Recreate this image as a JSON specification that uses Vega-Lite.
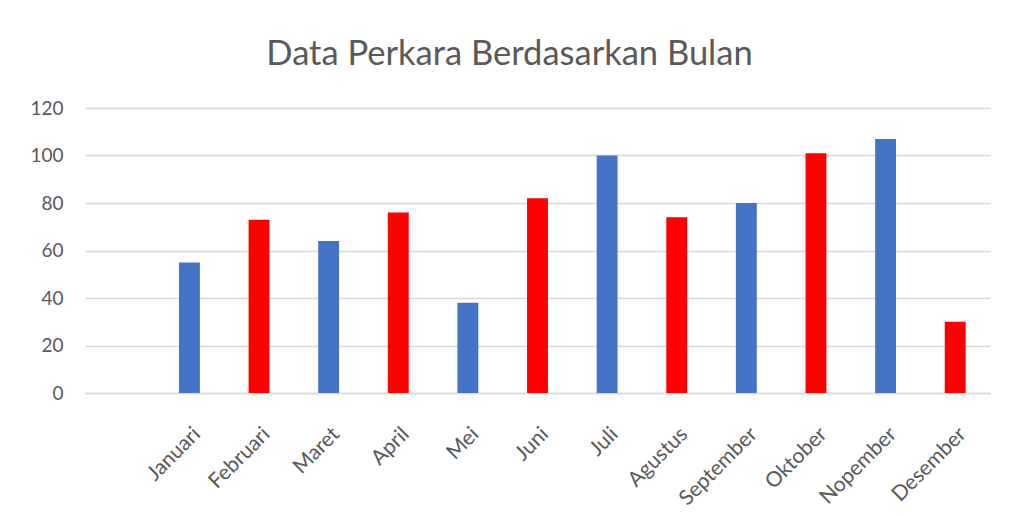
{
  "$schema": "https://vega.github.io/schema/vega-lite/v6.json",
  "width": 905,
  "height": 285,
  "autosize": {"type": "none"},
  "padding": {"left": 85, "top": 108, "right": 25, "bottom": 123},
  "background": "white",
  "title": {
    "text": "Data Perkara Berdasarkan Bulan",
    "font": "Lato",
    "fontSize": 34.5,
    "fontWeight": "normal",
    "color": "#595959",
    "anchor": "middle",
    "baseline": "alphabetic",
    "offset": 0,
    "dx": -28
  },
  "data": {
    "values": [
      {"bulan": "Januari", "jumlah": 55, "kelompok": "ganjil"},
      {"bulan": "Februari", "jumlah": 73, "kelompok": "genap"},
      {"bulan": "Maret", "jumlah": 64, "kelompok": "ganjil"},
      {"bulan": "April", "jumlah": 76, "kelompok": "genap"},
      {"bulan": "Mei", "jumlah": 38, "kelompok": "ganjil"},
      {"bulan": "Juni", "jumlah": 82, "kelompok": "genap"},
      {"bulan": "Juli", "jumlah": 100, "kelompok": "ganjil"},
      {"bulan": "Agustus", "jumlah": 74, "kelompok": "genap"},
      {"bulan": "September", "jumlah": 80, "kelompok": "ganjil"},
      {"bulan": "Oktober", "jumlah": 101, "kelompok": "genap"},
      {"bulan": "Nopember", "jumlah": 107, "kelompok": "ganjil"},
      {"bulan": "Desember", "jumlah": 30, "kelompok": "genap"}
    ]
  },
  "mark": {"type": "bar"},
  "encoding": {
    "x": {
      "field": "bulan",
      "type": "nominal",
      "sort": null,
      "scale": {
        "domain": [" ", "Januari", "Februari", "Maret", "April", "Mei", "Juni", "Juli", "Agustus", "September", "Oktober", "Nopember", "Desember"],
        "paddingInner": 0.7,
        "paddingOuter": 0.35
      },
      "axis": {
        "title": null,
        "labelAngle": -45,
        "labelFont": "Lato",
        "labelFontSize": 21,
        "labelColor": "#595959",
        "labelPadding": 30,
        "ticks": false,
        "domainColor": "#d9d9d9",
        "domainWidth": 1.5,
        "grid": false
      }
    },
    "y": {
      "field": "jumlah",
      "type": "quantitative",
      "scale": {"domain": [0, 120]},
      "axis": {
        "title": null,
        "values": [0, 20, 40, 60, 80, 100, 120],
        "labelFont": "Lato",
        "labelFontSize": 19,
        "labelColor": "#595959",
        "labelPadding": 22,
        "ticks": false,
        "domain": false,
        "grid": true,
        "gridColor": "#d9d9d9",
        "gridWidth": 1.5
      }
    },
    "color": {
      "field": "kelompok",
      "type": "nominal",
      "scale": {"domain": ["ganjil", "genap"], "range": ["#4472C4", "#FF0000"]},
      "legend": null
    }
  },
  "config": {"view": {"stroke": null}}
}
